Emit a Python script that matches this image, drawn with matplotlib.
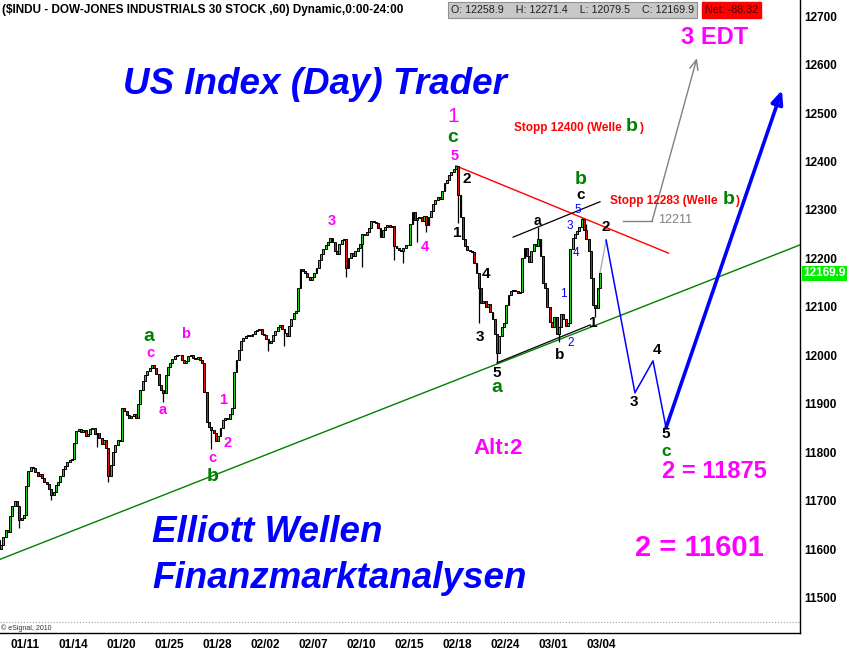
import matplotlib
matplotlib.use("Agg")
import matplotlib.pyplot as plt
import matplotlib.transforms as mtransforms
import numpy as np

plt.rcParams["font.family"] = ["Liberation Sans", "DejaVu Sans"]

# ---- data: hourly closes ($INDU, 60 min, 7 bars per session) ----
DAYS = ["01/10", "01/11", "01/12", "01/13", "01/14", "01/18", "01/19", "01/20",
        "01/21", "01/24", "01/25", "01/26", "01/27", "01/28", "01/31", "02/01",
        "02/02", "02/03", "02/04", "02/07", "02/08", "02/09", "02/10", "02/11",
        "02/14", "02/15", "02/16", "02/17", "02/18", "02/22", "02/23", "02/24",
        "02/25", "02/28", "03/01", "03/02", "03/03", "03/04"]

HOURLY_CLOSE = [
    [11660, 11620, 11600, 11610, 11625, 11640, 11637],
    [11670, 11690, 11700, 11690, 11660, 11665, 11672],
    [11730, 11762, 11770, 11768, 11760, 11752, 11755],
    [11748, 11740, 11735, 11725, 11712, 11718, 11732],
    [11740, 11752, 11765, 11772, 11780, 11785, 11787],
    [11820, 11845, 11848, 11842, 11846, 11835, 11838],
    [11848, 11850, 11838, 11840, 11830, 11818, 11825],
    [11810, 11752, 11775, 11800, 11815, 11826, 11823],
    [11892, 11886, 11878, 11872, 11875, 11880, 11872],
    [11900, 11928, 11948, 11960, 11968, 11975, 11980],
    [11975, 11962, 11940, 11928, 11922, 11960, 11977],
    [11985, 11992, 11998, 12002, 12000, 11990, 11985],
    [11988, 11998, 12002, 11995, 11992, 11996, 11990],
    [11985, 11925, 11862, 11852, 11846, 11840, 11824],
    [11835, 11850, 11866, 11872, 11870, 11880, 11892],
    [11965, 11990, 12012, 12030, 12036, 12040, 12040],
    [12040, 12045, 12050, 12052, 12055, 12045, 12042],
    [12035, 12025, 12030, 12042, 12050, 12058, 12062],
    [12055, 12046, 12040, 12060, 12075, 12088, 12092],
    [12140, 12178, 12174, 12170, 12162, 12156, 12162],
    [12170, 12180, 12196, 12210, 12220, 12228, 12233],
    [12242, 12235, 12215, 12210, 12230, 12238, 12240],
    [12180, 12200, 12212, 12205, 12215, 12222, 12229],
    [12250, 12248, 12255, 12262, 12278, 12275, 12273],
    [12262, 12245, 12258, 12265, 12270, 12264, 12268],
    [12225, 12222, 12218, 12215, 12222, 12228, 12227],
    [12272, 12295, 12280, 12283, 12286, 12278, 12288],
    [12270, 12285, 12298, 12312, 12320, 12326, 12322],
    [12340, 12355, 12362, 12372, 12378, 12385, 12391],
    [12330, 12285, 12240, 12225, 12218, 12215, 12213],
    [12190, 12170, 12140, 12108, 12112, 12100, 12106],
    [12090, 12075, 12045, 12005, 12040, 12058, 12068],
    [12105, 12125, 12132, 12136, 12134, 12128, 12130],
    [12200, 12222, 12205, 12192, 12215, 12230, 12226],
    [12240, 12205, 12150, 12140, 12100, 12070, 12058],
    [12080, 12045, 12058, 12085, 12075, 12060, 12067],
    [12220, 12242, 12250, 12256, 12265, 12282, 12258],
    [12240, 12215, 12160, 12105, 12098, 12140, 12170],
]

# visible wick extremes (bar number -> price)
WICK_HIGH = {238: 12265, 257: 12284, 259: 12271}
WICK_LOW = {11: 11645, 25: 11702, 45: 11812, 50: 11740, 74: 11905, 95: 11808,
            120: 12010, 127: 12020, 154: 12162, 161: 12183, 175: 12197,
            179: 12190, 185: 12234, 189: 12255, 203: 12273, 212: 12067,
            220: 11985, 247: 12028, 263: 12080}

DATE_TICKS = ["01/11", "01/14", "01/20", "01/25", "01/28", "02/02", "02/07",
              "02/10", "02/15", "02/18", "02/24", "03/01", "03/04"]
PRICE_TICKS = [11500, 11600, 11700, 11800, 11900, 12000, 12100, 12200,
               12300, 12400, 12500, 12600, 12700]

HEADER = "($INDU - DOW-JONES INDUSTRIALS 30 STOCK ,60) Dynamic,0:00-24:00"
DAY_OHLC = [12258.9, 12271.4, 12079.5, 12169.9]
NET = -88.32
LAST = 12169.9

# trend lines and projection (bar, price)
RED_LINE = ([202.5, 295.5], [12391, 12211])
GREEN_LINE = ([0, 360], [11574, 12241])
LOWER_BLACK = ([220.5, 261.2], [11985, 12063])
UPPER_BLACK = ([227.5, 265.5], [12244, 12317])
CONNECT = ([265.5, 268.2], [12170, 12238])
PROJ_BARS = [268.2, 280.8, 288.7, 294.4]
PROJ_PRICE = [12238, 11923, 11989, 11851]
TARGET = (345.1, 12547)
GRAY_PATH = ([275.6, 288.3, 307.9], [12277, 12277, 12613])

WAVE_LABELS = [
    (68.2, 12040, "a", "grn"), (68.7, 12005, "c", "mag"),
    (84.4, 12044, "b", "mag"), (74.4, 11888, "a", "mag"),
    (100.6, 11908, "1", "mag"), (102.8, 11820, "2", "mag"),
    (95.8, 11789, "c", "mag"), (96.2, 11750, "b", "grn"),
    (148.3, 12277, "3", "mag"), (189.0, 12224, "4", "mag"),
    (202.1, 12411, "5", "mag"), (201.2, 12492, "1", "magbig"),
    (201.2, 12450, "c", "grn"), (207.3, 12364, "2", "blk"),
    (202.9, 12253, "1", "blk"), (215.7, 12168, "4", "blk"),
    (213.0, 12038, "3", "blk"), (220.5, 11964, "5", "blk"),
    (220.5, 11933, "a", "grn"), (238.0, 12277, "a", "blksm"),
    (257.2, 12362, "b", "grn"), (257.2, 12330, "c", "blk"),
    (255.9, 12300, "5", "blu"), (252.4, 12267, "3", "blu"),
    (255.0, 12211, "4", "blu"), (249.3, 12127, "1", "blu"),
    (252.8, 12026, "2", "blu"), (248.0, 12001, "b", "blk"),
    (262.5, 12067, "1", "blk"), (268.2, 12265, "2", "blk"),
    (290.5, 12011, "4", "blk"), (280.4, 11904, "3", "blk"),
    (294.4, 11838, "5", "blk"), (294.4, 11802, "c", "grnsm"),
]

STYLES = {
    "mag":    dict(color="#ff00ff", fontsize=10.5, fontweight="bold"),
    "magbig": dict(color="#ff00ff", fontsize=15),
    "grn":    dict(color="#008000", fontsize=14, fontweight="bold"),
    "grnsm":  dict(color="#008000", fontsize=12.5, fontweight="bold"),
    "blk":    dict(color="black", fontsize=11, fontweight="bold"),
    "blksm":  dict(color="black", fontsize=10, fontweight="bold"),
    "blu":    dict(color="#0000ff", fontsize=8.5),
}

MAGENTA = "#ff00ff"
BLUE = "#0000ff"
CANDLE_UP = "#22cc22"
CANDLE_DN = "#dd1111"

# ---- build OHLC ----
closes = np.array(HOURLY_CLOSE, dtype=float).ravel()
n = len(closes)
opens = np.r_[closes[0], closes[:-1]]
highs = np.maximum(opens, closes)
lows = np.minimum(opens, closes)
for b, v in WICK_HIGH.items():
    highs[b] = max(highs[b], v)
for b, v in WICK_LOW.items():
    lows[b] = min(lows[b], v)

fig = plt.figure(figsize=(8.5, 6.52), dpi=100)
ax = fig.add_axes([0, 19 / 652, 800 / 850, 633 / 652])
ax.set_xlim(3.06, 353.0)
ax.set_ylim(11427.8, 12733)

xb = np.arange(n) + 0.5
up = closes >= opens
ax.vlines(xb, lows, highs, color="black", lw=0.9, zorder=3)
body_h = np.maximum(np.abs(closes - opens), 1.5)
ax.bar(xb, body_h, bottom=np.minimum(opens, closes), width=0.85,
       color=np.where(up, CANDLE_UP, CANDLE_DN), edgecolor="black",
       linewidth=0.7, zorder=4)

# trend lines
ax.plot(*GREEN_LINE, color="#008000", lw=1.0, zorder=2)
ax.plot(*RED_LINE, color="#ff0000", lw=1.0, zorder=2)
ax.plot(*LOWER_BLACK, color="black", lw=0.9, zorder=2)
ax.plot(*UPPER_BLACK, color="black", lw=0.9, zorder=2)
ax.plot(*CONNECT, color="#b0b0b0", lw=1.0, zorder=2)

# projected wave path
ax.plot(PROJ_BARS, PROJ_PRICE, color=BLUE, lw=1.1, zorder=2)
ax.annotate("", xy=TARGET, xytext=(PROJ_BARS[-1], PROJ_PRICE[-1]),
            arrowprops=dict(arrowstyle="-|>,head_length=0.8,head_width=0.35",
                            color=BLUE, lw=2.6, fill=False, shrinkA=0, shrinkB=0))
ax.plot(GRAY_PATH[0][:2], GRAY_PATH[1][:2], color="#808080", lw=1.0)
ax.annotate("", xy=(GRAY_PATH[0][2], GRAY_PATH[1][2]),
            xytext=(GRAY_PATH[0][1], GRAY_PATH[1][1]),
            arrowprops=dict(arrowstyle="->,head_length=0.7,head_width=0.3",
                            color="#808080", lw=1.0, shrinkA=0, shrinkB=0))

for bx, py, s, st in WAVE_LABELS:
    ax.text(bx, py, s, ha="center", va="center", zorder=6, **STYLES[st])

# stop annotations
red = dict(color="#ff0000", fontsize=8.5, fontweight="bold", va="center")
ax.text(227.9, 12469, "Stopp 12400 (Welle", ha="left", **red)
ax.text(279.5, 12472, "b", ha="center", va="center", **STYLES["grn"])
ax.text(283.9, 12469, ")", ha="center", **red)
ax.text(269.9, 12319, "Stopp 12283 (Welle", ha="left", **red)
ax.text(322.0, 12322, "b", ha="center", va="center", **STYLES["grn"])
ax.text(325.9, 12319, ")", ha="center", **red)
ax.text(290.9, 12279, "12211", ha="left", va="center", color="#808080", fontsize=9)

# axes styling
for side in ("top", "left"):
    ax.spines[side].set_visible(False)
ax.spines["right"].set_linewidth(1.0)
ax.spines["bottom"].set_linewidth(1.0)
ax.axhline(11450.5, color="#a0a0a0", lw=0.8, ls=":")
ax.text(3.5, 11437, "\u00a9 eSignal, 2010", fontsize=5, color="#303030",
        va="center", ha="left")

ax.yaxis.tick_right()
ax.set_yticks(PRICE_TICKS)
ax.set_yticklabels([str(v) for v in PRICE_TICKS], fontsize=8.5, fontweight="bold")
ax.tick_params(axis="y", length=0, pad=3)
tick_pos = [7 * (DAYS.index(d) + 1) for d in DATE_TICKS]
ax.set_xticks(tick_pos)
ax.set_xticklabels(DATE_TICKS, fontsize=8.5, fontweight="bold")
ax.tick_params(axis="x", length=0, pad=4)

# last price flag
trans = mtransforms.blended_transform_factory(ax.transAxes, ax.transData)
ax.text(1.004, LAST, f"{LAST:.1f}", transform=trans, ha="left", va="center",
        color="white", fontsize=8.5, fontweight="bold", zorder=7,
        bbox=dict(boxstyle="square,pad=0.12", fc="#00ee00", ec="none"))

# header line
fig.text(2 / 850, 1 - 10 / 652, HEADER, fontsize=8.5, fontweight="bold",
         ha="left", va="center")
o, h, l, c = DAY_OHLC
fig.text(451 / 850, 1 - 10 / 652,
         f"O: {o:.1f}    H: {h:.1f}    L: {l:.1f}    C: {c:.1f}",
         fontsize=7.7, ha="left", va="center", color="#202020",
         bbox=dict(boxstyle="square,pad=0.25", fc="#c8c8c8", ec="#909090", lw=0.8))
fig.text(705 / 850, 1 - 10 / 652, f"Net: {NET:.2f}", fontsize=7.7,
         ha="left", va="center", color="#500000",
         bbox=dict(boxstyle="square,pad=0.25", fc="#ff0000", ec="#ff0000"))

# big titles
big = dict(color=BLUE, fontsize=26.5, fontweight="bold", fontstyle="italic")
fig.text(315 / 850, 1 - 84 / 652, "US Index (Day) Trader", ha="center", va="center", **big)
fig.text(152 / 850, 1 - 533 / 652, "Elliott Wellen", ha="left", va="center", **big)
fig.text(152 / 850, 1 - 578 / 652, "Finanzmarktanalysen", ha="left", va="center", **big)

mag = dict(color=MAGENTA, fontweight="bold", ha="center", va="center")
fig.text(715 / 850, 1 - 37 / 652, "3 EDT", fontsize=17, **mag)
fig.text(498 / 850, 1 - 448 / 652, "Alt:2", fontsize=16, **mag)
fig.text(714 / 850, 1 - 472 / 652, "2 = 11875", fontsize=17, **mag)
fig.text(699 / 850, 1 - 548 / 652, "2 = 11601", fontsize=21, **mag)

fig.savefig("out.png", dpi=100, facecolor="white")
